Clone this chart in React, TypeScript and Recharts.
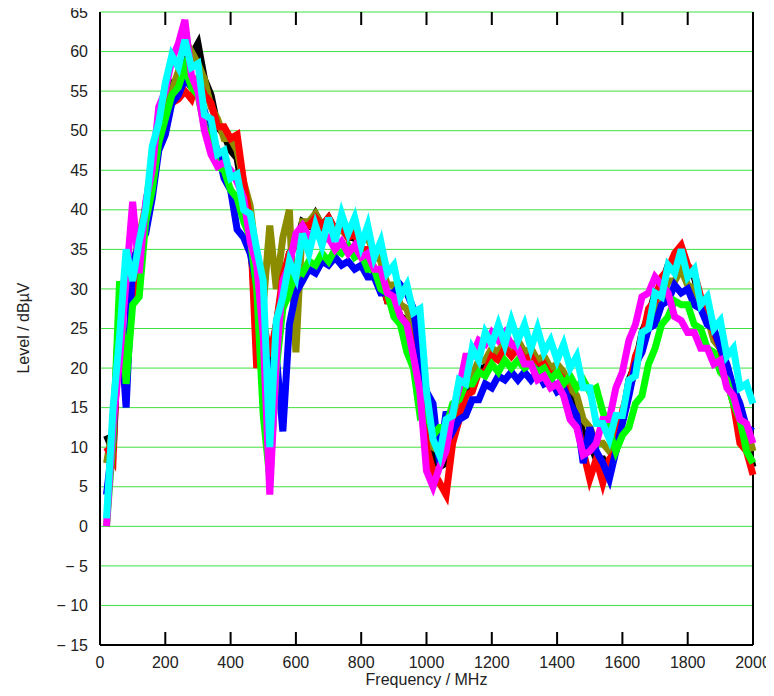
import React from "react";
import { LineChart, Line, XAxis, YAxis, CartesianGrid, ReferenceLine } from "recharts";

// frequency grid in MHz
const freqs = [
  20, 40, 60, 80, 100, 120, 140, 160, 180, 200,
  220, 240, 260, 280, 300, 320, 340, 360, 380, 400,
  420, 440, 460, 480, 500, 520, 540, 560, 580, 600,
  620, 640, 660, 680, 700, 720, 740, 760, 780, 800,
  820, 840, 860, 880, 900, 920, 940, 960, 980, 1000,
  1020, 1040, 1060, 1080, 1100, 1120, 1140, 1160, 1180, 1200,
  1220, 1240, 1260, 1280, 1300, 1320, 1340, 1360, 1380, 1400,
  1420, 1440, 1460, 1480, 1500, 1520, 1540, 1560, 1580, 1600,
  1620, 1640, 1660, 1680, 1700, 1720, 1740, 1760, 1780, 1800,
  1820, 1840, 1860, 1880, 1900, 1920, 1940, 1960, 1980, 2000,
];

// levels in dBuV, one value per frequency
const black = [
  11.5, 9.5, 27.5, 29.5, 32.5, 34.5, 40.5, 44.5, 50.5, 52.5,
  56, 56.5, 59, 59.5, 61, 56.5, 54.5, 50.5, 49.5, 47.5,
  46.5, 41.5, 36.5, 25.5, 22.5, 19.5, 25.5, 30.5, 34.5, 35.5,
  38.5, 38, 39.5, 38, 39, 37.5, 38, 36.5, 36.5, 34.5,
  34.5, 32, 31.5, 28.5, 28.5, 26.5, 26, 22.5, 20.5, 12,
  9, 7.5, 8, 11.5, 13.5, 16.5, 17.5, 20, 20, 22,
  21.5, 23, 22, 23, 21.5, 22, 20.5, 21, 19.5, 20,
  19, 16.5, 15.5, 11.5, 10.5, 8.5, 8.5, 6.5, 10.5, 13.5,
  18.5, 20.5, 24.5, 26.5, 29.5, 30.5, 33, 33, 34.5, 32.5,
  31.5, 28.5, 27.5, 24, 22.5, 18.5, 16.5, 11.5, 10.5, 7.5,
];

const olive = [
  8, 12.5, 27.5, 32.5, 32.5, 36.5, 40.5, 46.5, 49.5, 53.5,
  55, 57.5, 58, 60, 58.5, 56.5, 53, 51.5, 49, 49,
  47.5, 43.5, 40.5, 33.5, 28, 38, 30, 36.5, 40, 22,
  38.5, 38.5, 39.5, 38, 38.5, 37, 37.5, 36.5, 37.5, 36,
  36.5, 34.5, 33.5, 30.5, 30.5, 28, 27.5, 24.5, 22, 14,
  10, 9.5, 10.5, 13.5, 15.5, 18.5, 19, 21, 21, 22.5,
  22, 23.5, 22.5, 23.5, 22, 22.5, 21, 21.5, 20, 20.5,
  19.5, 17.5, 16.5, 13.5, 12.5, 10.5, 10.5, 9.5, 11.5, 13.5,
  17.5, 19.5, 23.5, 25, 28, 28.5, 31, 31, 32.5, 30.5,
  30, 27.5, 26.5, 23.5, 22.5, 19.5, 17.5, 13.5, 12.5, 9.5,
];

const red = [
  10, 8.5, 28.5, 27.5, 29, 35.5, 39.5, 45.5, 48.5, 52.5,
  53.5, 54, 55, 54, 56.5, 54.5, 53.5, 50.5, 50.5, 49,
  49.5, 43.5, 38.5, 20, 26, 21.5, 25.5, 31.5, 34.5, 35.5,
  38, 38, 39, 38, 39, 37.5, 38, 36.5, 37, 35,
  35, 32.5, 31.5, 28.5, 28.5, 26.5, 25.5, 22.5, 20.5, 10,
  7, 5.5, 4, 10.5, 13.5, 16.5, 17, 19.5, 19.5, 21.5,
  21, 22.5, 21.5, 22.5, 21, 21.5, 20, 20.5, 19, 19.5,
  18.5, 14.5, 13.5, 9.5, 6, 8.5, 5.5, 8.5, 9.5, 14.5,
  17.5, 21.5, 23.5, 27.5, 28.5, 31.5, 32.5, 34.5, 35.5, 33,
  32, 29, 27.5, 24.5, 22.5, 18.5, 15.5, 10.5, 9.5, 6.5,
];

const blue = [
  4, 11, 27, 15, 33.5, 35.5, 37, 41.5, 47.5, 49.5,
  53.5, 54.5, 56.5, 55.5, 55, 52.5, 49.5, 47.5, 44, 42.5,
  37.5, 36.5, 34.5, 30.5, 24, 18.5, 21.5, 12, 25.5, 29.5,
  31, 32.5, 32, 33.5, 33, 34, 33, 33.5, 32.5, 33,
  31.5, 31.5, 29.5, 29.5, 29.5, 30.5, 29.5, 27.5, 21.5, 17,
  15.5, 8, 14.5, 12, 13.5, 14, 16, 16, 18, 17.5,
  19, 18.5, 19.5, 18.5, 19.5, 18.5, 19.5, 18, 18.5, 17,
  17.5, 15.5, 14, 8, 12.5, 9.5, 8, 6, 9.5, 13,
  16.5, 20.5, 22, 25, 25.5, 28, 28.5, 30.5, 29.5, 30,
  28, 27.5, 25.5, 25, 22.5, 20.5, 17.5, 15.5, 12.5, 12,
];

const green = [
  0, 11, 31, 18, 28, 29, 38.5, 42.5, 48.5, 51.5,
  54.5, 55.5, 58, 55.5, 54.5, 50.5, 48.5, 45.5, 45, 42.5,
  41.5, 38.5, 36.5, 30, 14, 6, 20, 27.5, 29.5, 32.5,
  32, 33.5, 33, 34.5, 33.5, 35, 34.5, 35.5, 34, 34.5,
  32.5, 32.5, 30, 29.5, 26.5, 25.5, 22, 20, 14, 14.5,
  11.5, 12.5, 12.5, 15.5, 16, 18, 18, 19.5, 19, 20.5,
  19.5, 21, 20, 21, 20, 20.5, 19.5, 20, 18.5, 19.5,
  18, 19, 17.5, 18.5, 17, 17.5, 14.5, 12, 9.5, 11.5,
  12.5, 15.5, 16.5, 20.5, 22.5, 25.5, 26.5, 28.5, 28, 28,
  25.5, 25, 22.5, 22, 19.5, 18.5, 15.5, 13.5, 9.5, 8,
];

const magenta = [
  0, 13, 21, 31, 41, 32, 41, 45, 53, 55,
  59, 61, 64, 57, 55, 50, 47, 45.5, 46, 45,
  43.5, 41.5, 36, 33, 24, 4, 21, 31, 33, 37,
  38, 36.5, 37.5, 36, 36.5, 35, 36, 34.5, 35.5, 34,
  34.5, 32.5, 32.5, 29.5, 29, 26.5, 25.5, 21.5, 17, 7,
  5, 7.5, 9.5, 14.5, 17.5, 21.5, 21.5, 23.5, 23, 24.5,
  23.5, 24.5, 23, 22.5, 20.5, 20.5, 18.5, 19, 17.5, 18,
  16.5, 13.5, 12.5, 9, 9.5, 10.5, 13.5, 13.5, 17.5, 19.5,
  23.5, 25.5, 29, 29.5, 31.5, 30.5, 29.5, 26.5, 26, 24.5,
  24.5, 22.5, 22.5, 20.5, 21, 17.5, 16.5, 13.5, 13, 10.5,
];

const cyan = [
  1, 15, 24, 35, 31, 36, 40, 48, 51, 56,
  59.5, 58, 61.5, 58, 58.5, 52, 51.5, 47, 47.5, 44,
  44.5, 40, 39.5, 35, 31, 10, 26, 29, 33.5, 31.5,
  37, 34.5, 38, 35.5, 39, 36, 39.5, 37, 39, 35.5,
  38, 34, 36, 32, 33, 29, 30.5, 27, 27.5, 17,
  11, 9, 13.5, 14, 18.5, 18, 22.5, 21, 24.5, 23,
  25.5, 23, 26, 23.5, 25.5, 22.5, 25, 22, 23.5, 21,
  23, 20, 21.5, 17.5, 17.5, 13, 13, 11, 14, 14,
  18.5, 19, 24.5, 25, 29.5, 29, 33, 32, 35, 31.5,
  32.5, 28, 29, 25, 26, 21.5, 22.5, 17.5, 18, 15.5,
];

const xTicks = [0, 200, 400, 600, 800, 1000, 1200, 1400, 1600, 1800, 2000];
const yTicks = [-15, -10, -5, 0, 5, 10, 15, 20, 25, 30, 35, 40, 45, 50, 55, 60, 65];

const series = [
  { key: "black", color: "#000000" },
  { key: "olive", color: "#8c8c00" },
  { key: "red", color: "#ff0000" },
  { key: "blue", color: "#0000ff" },
  { key: "green", color: "#00ff00" },
  { key: "magenta", color: "#ff00ff" },
  { key: "cyan", color: "#00ffff" },
];

const data = freqs.map((f, i) => ({
  f,
  black: black[i],
  olive: olive[i],
  red: red[i],
  blue: blue[i],
  green: green[i],
  magenta: magenta[i],
  cyan: cyan[i],
}));

const W = 774;
const H = 696;
const PLOT_T = 12;
const PLOT_B = 645;
const TICK_LEN = 13;
const FONT = "'Liberation Sans', Arial, sans-serif";

const fmtLevel = (v: number) => (v < 0 ? `\u2212 ${-v}` : `${v}`);

// x tick: label under the axis plus short inward marks at the bottom and top of the frame
const renderFreqTick = (props: any) => {
  const { x, y, payload } = props;
  const inner = payload.value > 0 && payload.value < 2000;
  return (
    <g key={`ft-${payload.value}`}>
      {inner && (
        <path
          d={`M${x},${PLOT_B}V${PLOT_B - TICK_LEN}M${x},${PLOT_T}V${PLOT_T + TICK_LEN}`}
          stroke="#000000"
          strokeWidth={2}
          fill="none"
        />
      )}
      <text x={x} y={y} dy="0.71em" textAnchor="middle" fill="#222" fontSize={16} fontFamily={FONT}>
        {payload.value}
      </text>
    </g>
  );
};

export default function App() {
  return (
    <div style={{ position: "relative", width: W, height: H, margin: -8 }}>
      <LineChart width={W} height={H} data={data} margin={{ top: PLOT_T, right: 21, bottom: 21, left: 40 }}>
        <CartesianGrid horizontal vertical={false} stroke="#3fe03f" strokeWidth={1} />
        <YAxis
          type="number"
          domain={[-15, 65]}
          ticks={yTicks}
          width={60}
          axisLine={{ stroke: "#000000", strokeWidth: 2 }}
          tickSize={6}
          tickMargin={6}
          tickLine={false}
          tickFormatter={fmtLevel}
          tick={{ fill: "#222", fontSize: 16, fontFamily: FONT }}
          interval={0}
        />
        <ReferenceLine x={2000} stroke="#000000" strokeWidth={2} />
        {series.map((s) => (
          <Line
            key={s.key}
            dataKey={s.key}
            type="linear"
            stroke={s.color}
            strokeWidth={7}
            dot={false}
            activeDot={false}
            isAnimationActive={false}
          />
        ))}
        <XAxis
          dataKey="f"
          type="number"
          domain={[0, 2000]}
          ticks={xTicks}
          height={30}
          axisLine={{ stroke: "#000000", strokeWidth: 2 }}
          tickSize={6}
          tickMargin={6}
          tickLine={false}
          tick={renderFreqTick}
          interval={0}
        />
      </LineChart>
      <div
        style={{
          position: "absolute",
          left: 100,
          width: 653,
          top: 671,
          textAlign: "center",
          fontFamily: FONT,
          fontSize: 16,
          lineHeight: "18px",
          color: "#222",
        }}
      >
        Frequency / MHz
      </div>
      <div
        style={{
          position: "absolute",
          left: 24,
          top: 328,
          transform: "translate(-50%, -50%) rotate(-90deg)",
          whiteSpace: "nowrap",
          fontFamily: FONT,
          fontSize: 16,
          lineHeight: "18px",
          color: "#222",
        }}
      >
        Level / dBµV
      </div>
    </div>
  );
}
